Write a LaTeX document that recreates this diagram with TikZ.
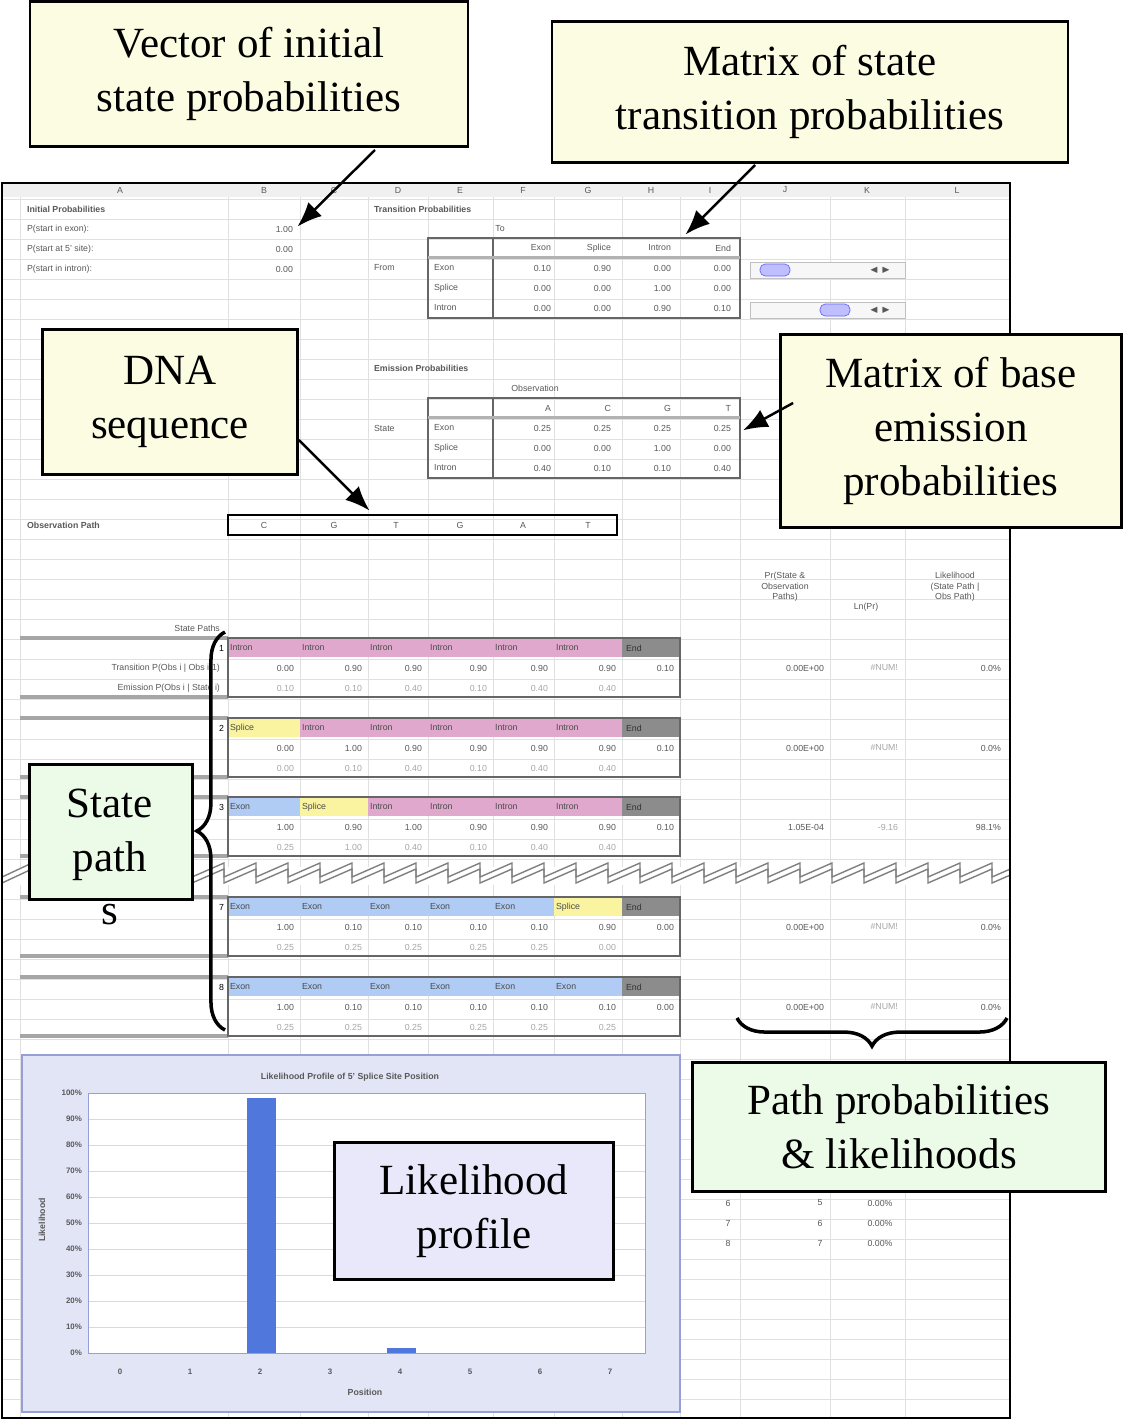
\documentclass[tikz,border=0pt]{standalone}
\usepackage{amssymb}
\usepackage{fontspec}
\setmainfont{Liberation Serif}
\setsansfont{Liberation Sans}
\usetikzlibrary{decorations.pathreplacing,positioning,arrows.meta}
\definecolor{noteyellow}{RGB}{252,252,226}
\definecolor{notegreen}{RGB}{236,250,232}
\definecolor{notelilac}{RGB}{232,232,250}
\definecolor{chartbg}{RGB}{226,229,246}
\definecolor{chartedge}{RGB}{150,160,212}
\definecolor{barblue}{RGB}{80,120,220}
\definecolor{stI}{RGB}{224,168,204}
\definecolor{stE}{RGB}{176,204,244}
\definecolor{stS}{RGB}{250,244,160}
\def\stnameI{Intron}\def\stnameE{Exon}\def\stnameS{Splice}
\tikzset{
  callout/.style={draw, line width=1.6pt, align=center, font=\fontsize{24.5}{30.5}\selectfont},
  pointer/.style={-{Latex[length=14pt,width=11pt]}, line width=1.4pt, shorten >=2pt},
  cell/.style={font=\sffamily\fontsize{5}{6}\selectfont, text=black!65, inner sep=1pt},
  grid line/.style={black!12, line width=0.4pt}
}
\begin{document}
\begin{tikzpicture}[x=0.02cm, y=-0.02cm]
\useasboundingbox (0,0) rectangle (1129,1420);
% spreadsheet sheet
\fill[white] (2,183) rectangle (1010,1418);
\foreach \gy in {199,219,...,1418} \draw[grid line] (2,\gy) -- (1010,\gy);
\foreach \gx in {20,228,300,368,428,493,554,622,680,740,830,905}
  \draw[grid line] (\gx,183) -- (\gx,1418);
\fill[black!6] (2,183) rectangle (1010,197);
\foreach \lt/\gx in {A/120,B/264,C/334,D/398,E/460,F/523,G/588,H/651,I/710,J/785,K/867,L/957}
  \node[cell] at (\gx,190) {\lt};

% initial probabilities
\node[cell, anchor=west, font=\sffamily\bfseries\fontsize{5}{6}\selectfont] (initp) at (25,209) {Initial Probabilities};
\foreach \lab/\v [count=\i] in {P(start in exon):/1.00, P(start at 5' site):/0.00, P(start in intron):/0.00}{
  \node[cell, anchor=west] at (25,209+20*\i) {\lab};
  \node[cell, anchor=east] (init\i) at (295,209+20*\i) {\v};
}

% transition table
\node[cell, anchor=west, font=\sffamily\bfseries\fontsize{5}{6}\selectfont] at (372,209) {Transition Probabilities};
\node[cell] at (500,229) {To};
\node[cell, anchor=west] at (372,268) {From};
\draw[black!60, line width=1.2pt] (428,238) rectangle (740,318);
\draw[black!60, line width=1pt] (493,238) -- (493,318);
\fill[black!30] (428,256) rectangle (740,259);
\foreach \h [count=\i] in {Exon,Splice,Intron,End}
  \node[cell, anchor=east] at (493+60*\i,248) {\h};
\foreach \r/\vals [count=\j] in {Exon/{0.10,0.90,0.00,0.00}, Splice/{0.00,0.00,1.00,0.00}, Intron/{0.00,0.00,0.90,0.10}}{
  \node[cell, anchor=west] at (432,248+20*\j) {\r};
  \foreach \v [count=\i] in \vals
    \node[cell, anchor=east] at (493+60*\i,248+20*\j) {\v};
}
\coordinate (transtab) at (683,237);
% scroll bars
\foreach \sy/\kx in {270/775,310/835}{
  \draw[black!25, fill=black!3] (750,\sy-8) rectangle (905,\sy+8);
  \draw[blue!60, fill=blue!25, rounded corners=3pt] (\kx-15,\sy-6) rectangle (\kx+15,\sy+6);
  \node[cell] at (880,\sy) {$\blacktriangleleft\,\blacktriangleright$};
}

% emission table
\node[cell, anchor=west, font=\sffamily\bfseries\fontsize{5}{6}\selectfont] at (372,368) {Emission Probabilities};
\node[cell] at (535,388) {Observation};
\node[cell, anchor=west] at (372,428) {State};
\draw[black!60, line width=1.2pt] (428,398) rectangle (740,478);
\draw[black!60, line width=1pt] (493,398) -- (493,478);
\fill[black!30] (428,416) rectangle (740,419);
\foreach \h [count=\i] in {A,C,G,T}
  \node[cell, anchor=east] at (493+60*\i,408) {\h};
\foreach \r/\vals [count=\j] in {Exon/{0.25,0.25,0.25,0.25}, Splice/{0.00,0.00,1.00,0.00}, Intron/{0.40,0.10,0.10,0.40}}{
  \node[cell, anchor=west] at (432,408+20*\j) {\r};
  \foreach \v [count=\i] in \vals
    \node[cell, anchor=east] at (493+60*\i,408+20*\j) {\v};
}
\coordinate (emistab) at (740,432);

% observation path
\node[cell, anchor=west, font=\sffamily\bfseries\fontsize{5}{6}\selectfont] at (25,525) {Observation Path};
\draw[line width=1.6pt] (228,515) rectangle (617,535);
\foreach \b/\gx in {C/264,G/334,T/396,G/460,A/523,T/588}
  \node[cell] at (\gx,525) {\b};
\coordinate (obspath) at (372,513);

% column heads of the results
\node[cell, align=center] at (785,587) {Pr(State \&\\Observation\\Paths)};
\node[cell] at (866,607) {Ln(Pr)};
\node[cell, align=center] at (955,587) {Likelihood\\(State Path |\\Obs Path)};
\node[cell, anchor=east] at (222,628) {State Paths};
\node[cell, anchor=east] at (222,668) {Transition P(Obs i | Obs i-1)};
\node[cell, anchor=east] at (222,688) {Emission P(Obs i | State i)};

% state path blocks
\foreach \by/\n/\sts/\tr/\em/\pr/\lnp/\lk in {
  638/1/{I,I,I,I,I,I}/{0.00,0.90,0.90,0.90,0.90,0.90,0.10}/{0.10,0.10,0.40,0.10,0.40,0.40}/0.00E+00/\#NUM!/0.0\%,
  718/2/{S,I,I,I,I,I}/{0.00,1.00,0.90,0.90,0.90,0.90,0.10}/{0.00,0.10,0.40,0.10,0.40,0.40}/0.00E+00/\#NUM!/0.0\%,
  797/3/{E,S,I,I,I,I}/{1.00,0.90,1.00,0.90,0.90,0.90,0.10}/{0.25,1.00,0.40,0.10,0.40,0.40}/1.05E-04/-9.16/98.1\%,
  897/7/{E,E,E,E,E,S}/{1.00,0.10,0.10,0.10,0.10,0.90,0.00}/{0.25,0.25,0.25,0.25,0.25,0.00}/0.00E+00/\#NUM!/0.0\%,
  977/8/{E,E,E,E,E,E}/{1.00,0.10,0.10,0.10,0.10,0.10,0.00}/{0.25,0.25,0.25,0.25,0.25,0.25}/0.00E+00/\#NUM!/0.0\%}{
  \draw[black!35, line width=2pt] (20,\by) -- (228,\by);
  \draw[black!35, line width=2pt] (20,\by+59) -- (228,\by+59);
  \foreach \st [count=\i] in \sts{
    \pgfmathsetmacro\xl{{228,300,368,428,493,554,622}[\i-1]}
    \pgfmathsetmacro\xr{{300,368,428,493,554,622,680}[\i-1]}
    \fill[st\st] (\xl,\by) rectangle (\xr,\by+19);
    \node[cell, anchor=west, text=black!70] at (\xl,\by+10) {\csname stname\st\endcsname};
  }
  \fill[black!45] (622,\by) rectangle (680,\by+19);
  \node[cell, anchor=west, text=black!80] at (624,\by+10) {End};
  \foreach \v [count=\i] in \tr{
    \pgfmathsetmacro\xr{{300,368,428,493,554,622,680}[\i-1]}
    \node[cell, anchor=east] at (\xr-4,\by+30) {\v};
  }
  \foreach \v [count=\i] in \em{
    \pgfmathsetmacro\xr{{300,368,428,493,554,622}[\i-1]}
    \node[cell, anchor=east, text=black!35] at (\xr-4,\by+50) {\v};
  }
  \draw[black!60, line width=1.2pt] (228,\by) rectangle (680,\by+59);
  \node[cell, anchor=east, text=black] at (226,\by+10) {\n};
  \node[cell, anchor=east] at (826,\by+30) {\pr};
  \node[cell, anchor=east, text=black!35] at (900,\by+30) {\lnp};
  \node[cell, anchor=east] at (1003,\by+30) {\lk};
}

% break in the sheet
\fill[white] (2,867) rectangle (1010,885);
\begin{scope}
\clip (2,860) rectangle (1010,892);
\foreach \off in {0,6}
  \draw[black!50, line width=0.8pt]
    (2,883-\off) \foreach \zx in {4,36,...,1000}{ -- (\zx+28,869-\off) -- (\zx+28,883-\off) };
\end{scope}
\draw[line width=1.2pt] (2,183) rectangle (1010,1418);

% likelihood chart
\draw[chartedge, fill=chartbg, line width=1.2pt] (22,1055) rectangle (680,1412);
\node[cell, font=\sffamily\bfseries\fontsize{5}{6}\selectfont] at (350,1077) {Likelihood Profile of 5' Splice Site Position};
\fill[white] (88,1093) rectangle (645,1353);
\foreach \k in {0,...,10}{
  \draw[black!15] (88,1353-26*\k) -- (645,1353-26*\k);
  \node[cell, anchor=east, font=\sffamily\bfseries\fontsize{4.5}{5}\selectfont] at (84,1353-26*\k) {\the\numexpr\k*10\relax\%};
}
\draw[chartedge] (88,1093) rectangle (645,1353);
\foreach \p in {0,...,7}
  \node[cell, font=\sffamily\bfseries\fontsize{4.5}{5}\selectfont] at (120+70*\p,1372) {\p};
\fill[barblue] (247,1098) rectangle (276,1353);
\fill[barblue] (387,1348) rectangle (416,1353);
\node[cell, font=\sffamily\bfseries\fontsize{5}{6}\selectfont] at (365,1392) {Position};
\node[cell, font=\sffamily\bfseries\fontsize{5}{6}\selectfont, rotate=90] at (42,1220) {Likelihood};

% small table next to the chart
\foreach \a/\b/\c [count=\i] in {6/5/0.00\%,7/6/0.00\%,8/7/0.00\%}{
  \node[cell] at (728,1183+20*\i) {\a};
  \node[cell] at (820,1183+20*\i) {\b};
  \node[cell] at (880,1183+20*\i) {\c};
}

% braces
\draw[line width=2pt, decorate, decoration={brace, amplitude=16pt}] (225,1030) -- (225,632);
\draw[line width=2pt, decorate, decoration={brace, amplitude=16pt}] (1007,1018) -- (737,1018);

% callouts
\node[callout, fill=noteyellow, minimum width=438*0.02cm, minimum height=145*0.02cm] (initnote) at (249,74)
  {Vector of initial\\state probabilities};
\node[callout, fill=noteyellow, minimum width=516*0.02cm, minimum height=141*0.02cm] (transnote) at (810,92)
  {Matrix of state\\transition probabilities};
\node[callout, fill=noteyellow, minimum width=255*0.02cm, minimum height=145*0.02cm] (dnanote) at (170,402)
  {DNA\\sequence};
\node[callout, fill=noteyellow, minimum width=341*0.02cm, minimum height=193*0.02cm] (emisnote) at (951,431)
  {Matrix of base\\emission\\probabilities};
\node[callout, fill=notegreen, minimum width=163*0.02cm, minimum height=135*0.02cm] (pathnote) at (111,832) {};
\node[align=center, font=\fontsize{24.5}{30.5}\selectfont] at (110,857) {State\\path\\s};
\node[callout, fill=notegreen, minimum width=413*0.02cm, minimum height=129*0.02cm] (likenote) at (899,1127)
  {Path probabilities\\\& likelihoods};
\node[callout, fill=notelilac, minimum width=279*0.02cm, minimum height=137*0.02cm] (profnote) at (474,1211)
  {Likelihood\\profile};

% pointers
\draw[pointer] (375,150) -- (init1.east);
\draw[pointer] (755,165) -- (transtab);
\draw[pointer] (dnanote.east) ++(0,38) -- (obspath);
\draw[pointer] (emisnote.west) ++(14,-28) -- (emistab);
\end{tikzpicture}
\end{document}
